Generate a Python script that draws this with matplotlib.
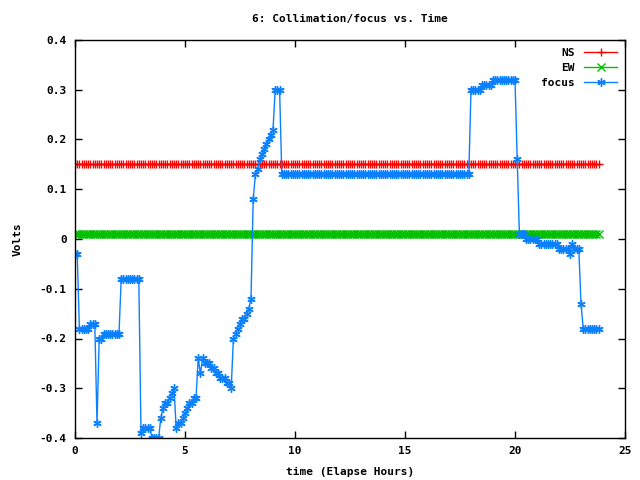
import numpy as np
import matplotlib
matplotlib.use('Agg')
import matplotlib.pyplot as plt

# sample times, one reading every 6 minutes (0.1 h)
n_samples = 239
time_hours = np.arange(n_samples) * 0.1

# constant readings for the two collimation channels
ns_level = 0.15
ew_level = 0.01

# focus readings, one row per hour (t = h.0 ... h.9)
focus = [
    -0.03, -0.03, -0.18, -0.18, -0.18, -0.18, -0.18, -0.17, -0.17, -0.17,
    -0.37, -0.20, -0.20, -0.19, -0.19, -0.19, -0.19, -0.19, -0.19, -0.19,
    -0.19, -0.08, -0.08, -0.08, -0.08, -0.08, -0.08, -0.08, -0.08, -0.08,
    -0.39, -0.38, -0.38, -0.38, -0.38, -0.40, -0.40, -0.40, -0.40, -0.36,
    -0.34, -0.33, -0.33, -0.32, -0.31, -0.30, -0.38, -0.37, -0.37, -0.36,
    -0.35, -0.34, -0.33, -0.33, -0.32, -0.32, -0.24, -0.27, -0.24, -0.25,
    -0.25, -0.25, -0.26, -0.26, -0.27, -0.27, -0.28, -0.28, -0.28, -0.29,
    -0.29, -0.30, -0.20, -0.19, -0.18, -0.17, -0.16, -0.16, -0.15, -0.14,
    -0.12, 0.08, 0.13, 0.14, 0.16, 0.17, 0.18, 0.19, 0.20, 0.21,
    0.22, 0.30, 0.30, 0.30, 0.13, 0.13, 0.13, 0.13, 0.13, 0.13,
    0.13, 0.13, 0.13, 0.13, 0.13, 0.13, 0.13, 0.13, 0.13, 0.13,
    0.13, 0.13, 0.13, 0.13, 0.13, 0.13, 0.13, 0.13, 0.13, 0.13,
    0.13, 0.13, 0.13, 0.13, 0.13, 0.13, 0.13, 0.13, 0.13, 0.13,
    0.13, 0.13, 0.13, 0.13, 0.13, 0.13, 0.13, 0.13, 0.13, 0.13,
    0.13, 0.13, 0.13, 0.13, 0.13, 0.13, 0.13, 0.13, 0.13, 0.13,
    0.13, 0.13, 0.13, 0.13, 0.13, 0.13, 0.13, 0.13, 0.13, 0.13,
    0.13, 0.13, 0.13, 0.13, 0.13, 0.13, 0.13, 0.13, 0.13, 0.13,
    0.13, 0.13, 0.13, 0.13, 0.13, 0.13, 0.13, 0.13, 0.13, 0.13,
    0.30, 0.30, 0.30, 0.30, 0.30, 0.31, 0.31, 0.31, 0.31, 0.31,
    0.32, 0.32, 0.32, 0.32, 0.32, 0.32, 0.32, 0.32, 0.32, 0.32,
    0.32, 0.16, 0.01, 0.01, 0.01, 0.00, 0.00, 0.00, 0.00, 0.00,
    0.00, -0.01, -0.01, -0.01, -0.01, -0.01, -0.01, -0.01, -0.01, -0.01,
    -0.02, -0.02, -0.02, -0.02, -0.02, -0.03, -0.01, -0.02, -0.02, -0.02,
    -0.13, -0.18, -0.18, -0.18, -0.18, -0.18, -0.18, -0.18, -0.18,
]

ns = [ns_level] * n_samples
ew = [ew_level] * n_samples

x_ticks = [0, 5, 10, 15, 20, 25]
y_ticks = [-0.4, -0.3, -0.2, -0.1, 0, 0.1, 0.2, 0.3, 0.4]
y_tick_labels = ['-0.4', '-0.3', '-0.2', '-0.1', '0', '0.1', '0.2', '0.3', '0.4']

plt.rcParams['font.family'] = ['DejaVu Sans Mono']
plt.rcParams['font.size'] = 8
plt.rcParams['font.weight'] = 'bold'

fig = plt.figure(figsize=(6.4, 4.8), dpi=100)
ax = fig.add_axes([75 / 640, 42 / 480, 550 / 640, 398 / 480])

ax.plot(time_hours, ns, color='#ff0000', linewidth=1, marker='+',
        markersize=6, markeredgewidth=1, label='NS')
ax.plot(time_hours, ew, color='#00c000', linewidth=1, marker='x',
        markersize=5.5, markeredgewidth=1, label='EW')
ax.plot(time_hours, focus, color='#0a80ff', linewidth=1, marker=(6, 2, 0),
        markersize=6, markeredgewidth=1, label='focus')

ax.set_xlim(0, 25)
ax.set_ylim(-0.4, 0.4)
ax.set_xticks(x_ticks)
ax.set_xticklabels([str(v) for v in x_ticks])
ax.set_yticks(y_ticks)
ax.set_yticklabels(y_tick_labels)
ax.tick_params(direction='in', length=5, width=1, top=True, right=True,
               labelsize=8, pad=6)
for spine in ax.spines.values():
    spine.set_linewidth(1)
    spine.set_color('black')

ax.set_title('6: Collimation/focus vs. Time', fontsize=8, fontweight='bold', pad=13)
ax.set_xlabel('time (Elapse Hours)', fontsize=8, fontweight='bold', labelpad=8)
ax.set_ylabel('Volts', fontsize=8, fontweight='bold', labelpad=12)

leg = ax.legend(loc='upper right', frameon=False, markerfirst=False,
                handlelength=3, labelspacing=0.45, borderaxespad=0.3,
                prop={'family': 'DejaVu Sans Mono', 'weight': 'bold', 'size': 8})

fig.savefig('out.png', dpi=100)
